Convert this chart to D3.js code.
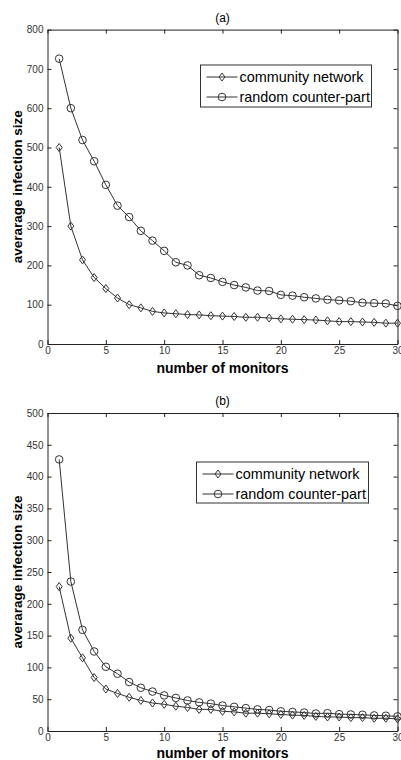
<!DOCTYPE html>
<html>
<head>
<meta charset="utf-8">
<script src="https://cdn.jsdelivr.net/npm/d3@7"></script>
<style>
body { margin: 0; background: #fff; }
text { font-family: "Liberation Sans", Arial, sans-serif; }
.axis text { font-size: 10px; fill: #333; }
.axis path, .axis line { stroke: #222; }
</style>
</head>
<body>
<div class="chart"></div>
<script>
var monitors = d3.range(1, 31);

// panel (a)
var communityA = [500, 300, 214, 169, 141, 117, 100, 92, 83, 79,
    77, 75, 74, 72, 71, 70, 68, 68, 66, 64,
    63, 62, 61, 59, 57, 57, 56, 55, 53, 53];
var randomA = [726, 600, 519, 465, 405, 352, 323, 288, 263, 237,
    208, 200, 175, 168, 158, 150, 144, 136, 135, 125,
    123, 119, 116, 113, 111, 109, 105, 104, 103, 97];

// panel (b)
var communityB = [227, 146, 115, 84, 66, 59, 53, 48, 44, 42,
    39, 37, 34, 34, 31, 30, 28, 28, 27, 26,
    25, 24.5, 23, 22, 22, 21, 21, 20, 20, 19];
var randomB = [427, 235, 159, 125, 101, 90, 77, 68, 62, 56,
    52, 48, 45, 43, 40, 38, 36, 34, 33, 31,
    30, 29, 27.5, 28, 26.5, 26, 25.5, 24.5, 24, 23];

var seriesNames = ["community network", "random counter-part"];
var xTicks = [0, 5, 10, 15, 20, 25, 30];
var yTicksA = d3.range(0, 801, 100);
var yTicksB = d3.range(0, 501, 50);

var W = 401, H = 760;
var left = 47.5, right = 397.5;

var svg = d3.select(".chart").append("svg")
    .attr("width", W)
    .attr("height", H);

function diamond(g, x, y) {
    g.append("path")
        .attr("d", "M" + x + "," + (y - 4) + "L" + (x + 3) + "," + y + "L" + x + "," + (y + 4) + "L" + (x - 3) + "," + y + "Z")
        .attr("fill", "none")
        .attr("stroke", "#333")
        .attr("stroke-width", 1);
}

function circle(g, x, y) {
    g.append("circle")
        .attr("cx", x).attr("cy", y).attr("r", 3.8)
        .attr("fill", "none")
        .attr("stroke", "#333")
        .attr("stroke-width", 1);
}

function panel(title, top, bottom, yMax, yTicks, comm, rand, legend, xlabY) {
    var x = d3.scaleLinear().domain([0, 30]).range([left, right]);
    var y = d3.scaleLinear().domain([0, yMax]).range([bottom, top]);
    var g = svg.append("g");

    g.append("g").attr("class", "axis")
        .attr("transform", "translate(0," + bottom + ")")
        .call(d3.axisBottom(x).tickValues(xTicks).tickSizeInner(-4).tickSizeOuter(0).tickPadding(3));
    g.append("g").attr("class", "axis")
        .attr("transform", "translate(0," + top + ")")
        .call(d3.axisTop(x).tickValues(xTicks).tickSizeInner(-4).tickSizeOuter(0).tickFormat(""));
    g.append("g").attr("class", "axis")
        .attr("transform", "translate(" + left + ",0)")
        .call(d3.axisLeft(y).tickValues(yTicks).tickSizeInner(-4).tickSizeOuter(0).tickPadding(4));
    g.append("g").attr("class", "axis")
        .attr("transform", "translate(" + right + ",0)")
        .call(d3.axisRight(y).tickValues(yTicks).tickSizeInner(-4).tickSizeOuter(0).tickFormat(""));

    var line = d3.line()
        .x(function (d, i) { return x(monitors[i]); })
        .y(function (d) { return y(d); });

    [comm, rand].forEach(function (s, k) {
        g.append("path")
            .datum(s)
            .attr("d", line)
            .attr("fill", "none")
            .attr("stroke", "#333")
            .attr("stroke-width", 1);
        s.forEach(function (v, i) {
            if (k === 0) diamond(g, x(monitors[i]), y(v));
            else circle(g, x(monitors[i]), y(v));
        });
    });

    g.append("text")
        .attr("x", (left + right) / 2).attr("y", top - 8)
        .attr("text-anchor", "middle")
        .style("font-size", "12px")
        .text(title);

    g.append("text")
        .attr("x", (left + right) / 2).attr("y", xlabY)
        .attr("text-anchor", "middle")
        .style("font-size", "14px")
        .style("font-weight", "bold")
        .text("number of monitors");

    g.append("text")
        .attr("transform", "translate(22," + (top + bottom) / 2 + ") rotate(-90)")
        .attr("text-anchor", "middle")
        .style("font-size", "13.5px")
        .style("font-weight", "bold")
        .text("averarage infection size");

    // legend
    var lg = g.append("g");
    lg.append("rect")
        .attr("x", legend.x).attr("y", legend.y)
        .attr("width", legend.w).attr("height", legend.h)
        .attr("fill", "#fff").attr("stroke", "#333").attr("stroke-width", 1);
    seriesNames.forEach(function (name, k) {
        var ry = legend.y + 12 + k * 20;
        lg.append("line")
            .attr("x1", legend.x + 6).attr("x2", legend.x + 37)
            .attr("y1", ry).attr("y2", ry)
            .attr("stroke", "#333");
        if (k === 0) diamond(lg, legend.x + 21.5, ry);
        else circle(lg, legend.x + 21.5, ry);
        lg.append("text")
            .attr("x", legend.x + 39).attr("y", ry + 5)
            .style("font-size", "14.4px")
            .text(name);
    });
}

panel("(a)", 29.6, 344, 800, yTicksA, communityA, randomA, {x: 200.5, y: 65, w: 171, h: 42}, 373);
panel("(b)", 413, 731, 500, yTicksB, communityB, randomB, {x: 196.5, y: 462, w: 172, h: 41}, 758);
</script>
</body>
</html>
